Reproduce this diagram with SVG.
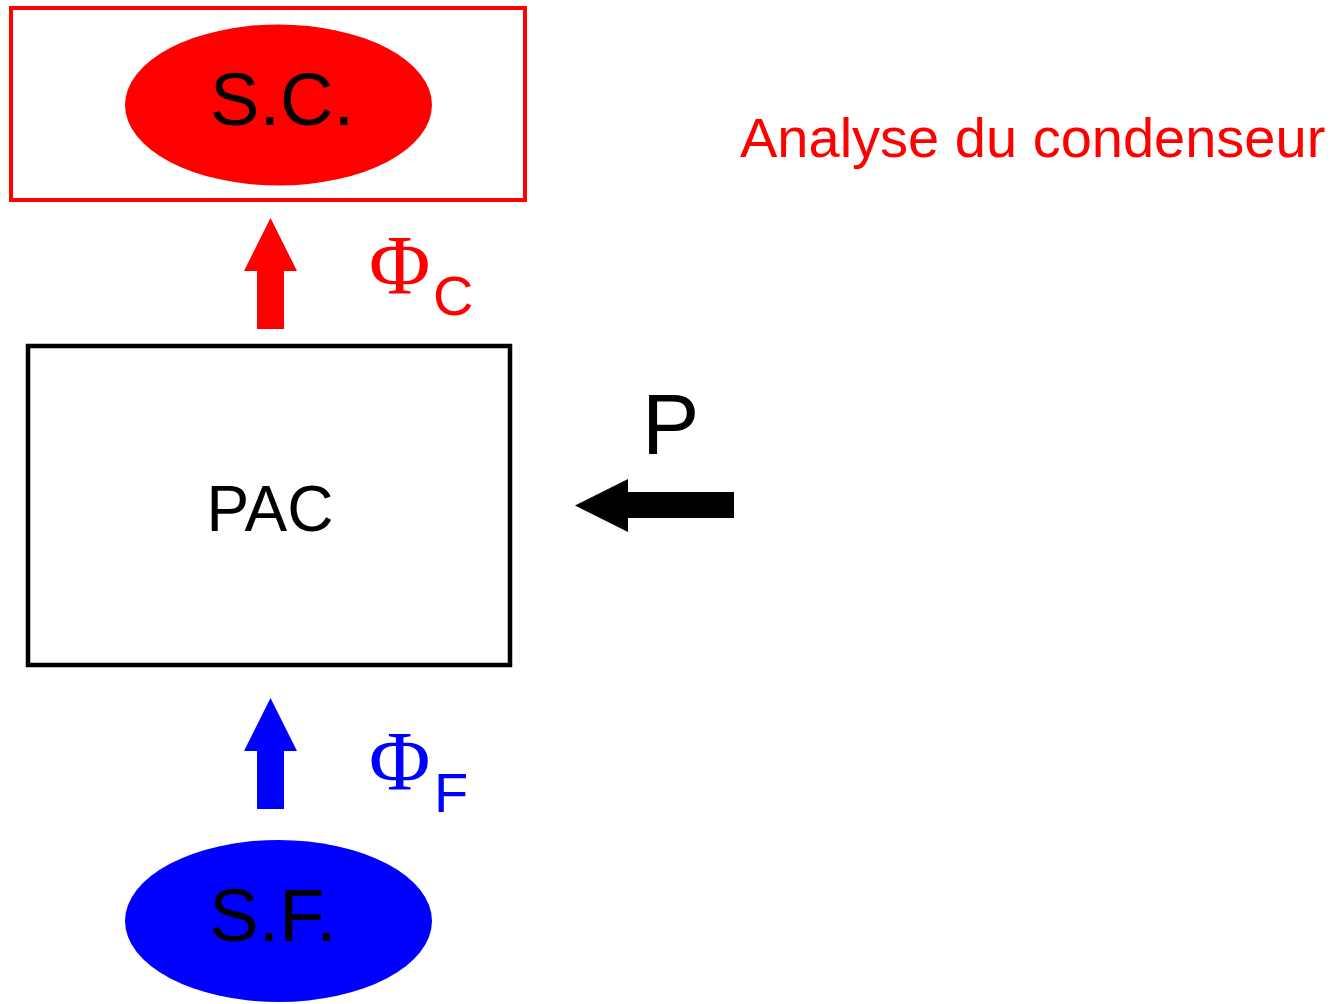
<svg xmlns="http://www.w3.org/2000/svg" width="1336" height="1004" viewBox="0 0 1336 1004">
<style>
.sans{font-family:"Liberation Sans",Arial,sans-serif}
.serif{font-family:"Liberation Serif","Times New Roman",serif}
.lbl{font-size:74px;fill:#000;text-anchor:middle}
</style>
<rect width="1336" height="1004" fill="#fff"/>
<g id="sc">
<rect x="11" y="8" width="514" height="192" fill="none" stroke="#f00" stroke-width="4"/>
<ellipse cx="278.5" cy="105" rx="153.5" ry="80.5" fill="#f00"/>
<text class="sans lbl" x="282" y="125">S.C.</text>
</g>
<g id="pac">
<rect x="28" y="346" width="482" height="319" fill="none" stroke="#000" stroke-width="4.5"/>
<text class="sans" x="270" y="531" font-size="64" text-anchor="middle">PAC</text>
</g>
<g id="sf">
<ellipse cx="278.5" cy="921" rx="153.5" ry="81" fill="#00f"/>
<text class="sans lbl" x="273" y="941">S.F.</text>
</g>
<g id="title">
<text class="sans" x="740" y="157" font-size="56" fill="#f00">Analyse du condenseur</text>
</g>
<g id="connectors">
<polygon points="270.5,218 297,271 284,271 284,329 257,329 257,271 244,271" fill="#f00"/>
<polygon points="270.5,698 297,751 284,751 284,809 257,809 257,751 244,751" fill="#00f"/>
<polygon points="575,505.5 628,479 628,492 734,492 734,518 628,518 628,532" fill="#000"/>
</g>
<g id="labels">
<text class="serif" x="369" y="294" font-size="84" fill="#f00">Φ</text>
<text class="sans" x="433" y="315" font-size="56" fill="#f00">C</text>
<text class="serif" x="369" y="790" font-size="84" fill="#00f">Φ</text>
<text class="sans" x="434" y="812" font-size="56" fill="#00f">F</text>
<text class="sans" x="642" y="454" font-size="86" fill="#000">P</text>
</g>
</svg>
